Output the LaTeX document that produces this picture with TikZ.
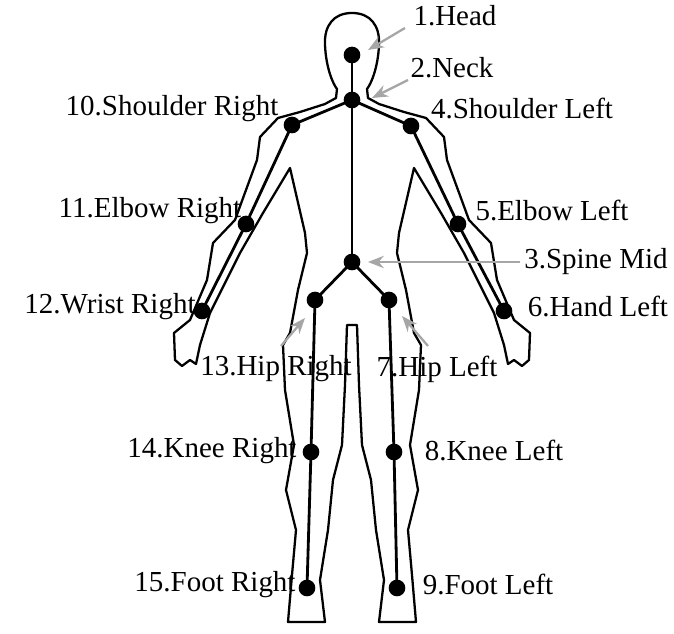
\documentclass[tikz,border=0pt]{standalone}
\usepackage{fontspec}
\setmainfont{Liberation Serif}
\usetikzlibrary{arrows.meta}
\begin{document}
\begin{tikzpicture}[x=0.02cm,y=-0.02cm,
    joint/.style={circle,fill,inner sep=0pt,minimum size=9.5pt},
    bone/.style={line width=1.6pt},
    outline/.style={line width=1.3pt,line join=round},
    lbl/.style={font=\fontsize{16.5}{18}\selectfont,inner sep=0pt},
    pointer/.style={gray!70,line width=1.3pt,-{Stealth[length=9pt,width=7pt]}}]
    \useasboundingbox (0,0) rectangle (674,634);

    % body outline, one half and its mirror
    \foreach \side in {1,-1} {
      \begin{scope}[shift={(352,0)},xscale=\side,shift={(-352,0)}]
        \draw[outline] (352,13) .. controls (334,13) and (324,25) .. (325,45)
          .. controls (326,68) and (333,84) .. (337,89) -- (336,98) -- (325,104)
          -- (300,112) -- (278,118) -- (260,137) -- (257,160) -- (235,220)
          -- (213,243) -- (207,280) -- (190,320) -- (174,333) -- (175,360)
          -- (182,366) -- (190,360) -- (196,364) -- (200,345) -- (210,313)
          -- (240,253) -- (263,213) -- (290,168) -- (305,233) -- (307,253)
          -- (298,290) -- (290,333) -- (283,345) -- (285,390) -- (294,445)
          -- (286,490) -- (296,530) -- (292,575) -- (288,622) -- (325,622)
          -- (320,580) -- (328,530) -- (333,480) -- (342,445) -- (345,385)
          -- (347,325) -- (352,325);
      \end{scope}
    }

    % joints
    \node[joint] (head) at (352,55) {};
    \node[joint] (neck) at (352,100) {};
    \node[joint] (spine) at (352,262) {};
    \node[joint] (shr) at (292,125) {};
    \node[joint] (shl) at (411,126) {};
    \node[joint] (elr) at (246,224) {};
    \node[joint] (ell) at (458,224) {};
    \node[joint] (wrr) at (202,311) {};
    \node[joint] (hal) at (504,311) {};
    \node[joint] (hipr) at (315,300) {};
    \node[joint] (hipl) at (389,300) {};
    \node[joint] (knr) at (311,452) {};
    \node[joint] (knl) at (394,452) {};
    \node[joint] (ftr) at (307,588) {};
    \node[joint] (ftl) at (397,588) {};

    \draw[bone] (head.center) -- (neck.center) -- (spine.center);
    \draw[bone] (wrr.center) -- (elr.center) -- (shr.center) -- (neck.center)
      -- (shl.center) -- (ell.center) -- (hal.center);
    \draw[bone] (ftr.center) -- (knr.center) -- (hipr.center) -- (spine.center)
      -- (hipl.center) -- (knl.center) -- (ftl.center);

    % labels
    \node[lbl] (t1) at (455,16) {1.Head};
    \node[lbl] (t2) at (452,68) {2.Neck};
    \node[lbl] (t3) at (596,262) {3.Spine Mid};
    \node[lbl] (t4) at (522,109) {4.Shoulder Left};
    \node[lbl] (t5) at (552,211) {5.Elbow Left};
    \node[lbl] (t6) at (598,307) {6.Hand Left};
    \node[lbl] (t7) at (437,369) {7.Hip Left};
    \node[lbl] (t8) at (494,451) {8.Knee Left};
    \node[lbl] (t9) at (488,585) {9.Foot Left};
    \node[lbl] (t10) at (172,109) {10.Shoulder Right};
    \node[lbl] (t11) at (150,211) {11.Elbow Right};
    \node[lbl] (t12) at (110,307) {12.Wrist Right};
    \node[lbl] (t13) at (276,369) {13.Hip Right};
    \node[lbl] (t14) at (212,451) {14.Knee Right};
    \node[lbl] (t15) at (215,585) {15.Foot Right};

    \coordinate (a1) at (405,28);
    \coordinate (b1) at (368,50);
    \coordinate (a2) at (408,80);
    \coordinate (b2) at (372,98);
    \coordinate (a13) at (281,346);
    \coordinate (b13) at (305,318);
    \coordinate (a7) at (428,346);
    \coordinate (b7) at (402,316);
    \draw[pointer] (a1) -- (b1);
    \draw[pointer] (a2) -- (b2);
    \draw[pointer] (t3.west) ++(-4,0) -- (368,262);
    \draw[pointer] (a13) -- (b13);
    \draw[pointer] (a7) -- (b7);
  \end{tikzpicture}
\end{document}
